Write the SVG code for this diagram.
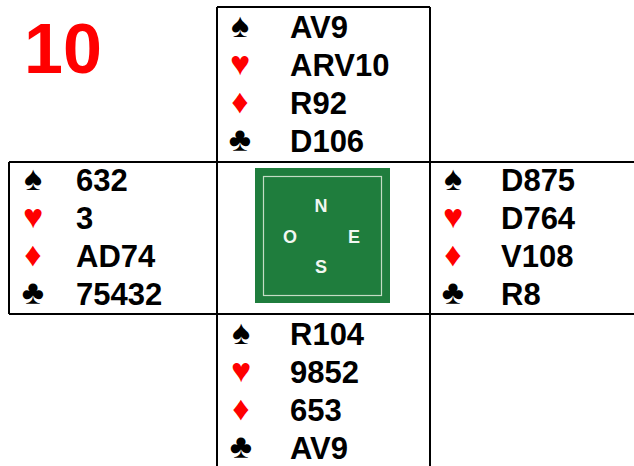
<svg xmlns="http://www.w3.org/2000/svg" width="634" height="466" viewBox="0 0 634 466">
<style>
.c{font-family:"Liberation Sans",Arial,sans-serif;font-weight:bold;font-size:31px;fill:#000}
.s{font-family:"Liberation Sans","DejaVu Sans",sans-serif;font-size:34px;text-anchor:middle}
.b{fill:#000}.r{fill:#ff0000}
.ln{stroke:#000;stroke-width:2;fill:none}
.d{font-family:"Liberation Sans",Arial,sans-serif;font-weight:bold;font-size:18px;fill:#f2f7f2;text-anchor:middle}
</style>
<rect width="634" height="466" fill="#fff"/>
<g id="connectors">
<path class="ln" d="M217,7 H430 M217,7 V466 M430,7 V466 M9,162 H634 M9,314 H634 M9,162 V314"/>
</g>
<g id="title"><text x="24" y="73" font-family="Liberation Sans,Arial,sans-serif" font-weight="bold" font-size="70" fill="#ff0000">10</text></g>
<g id="north">
<text class="s b" x="240" y="37">♠</text><text class="c" x="290" y="38">AV9</text>
<text class="s r" x="240" y="75">♥</text><text class="c" x="290" y="76">ARV10</text>
<text class="s r" x="240" y="113">♦</text><text class="c" x="290" y="114">R92</text>
<text class="s b" x="240" y="151">♣</text><text class="c" x="290" y="152">D106</text>
</g>
<g id="west">
<text class="s b" x="33" y="190">♠</text><text class="c" x="76" y="191">632</text>
<text class="s r" x="33" y="228">♥</text><text class="c" x="76" y="229">3</text>
<text class="s r" x="33" y="266">♦</text><text class="c" x="76" y="267">AD74</text>
<text class="s b" x="33" y="304">♣</text><text class="c" x="76" y="305">75432</text>
</g>
<g id="east">
<text class="s b" x="453" y="190">♠</text><text class="c" x="501" y="191">D875</text>
<text class="s r" x="453" y="228">♥</text><text class="c" x="501" y="229">D764</text>
<text class="s r" x="453" y="266">♦</text><text class="c" x="501" y="267">V108</text>
<text class="s b" x="453" y="304">♣</text><text class="c" x="501" y="305">R8</text>
</g>
<g id="south">
<text class="s b" x="241" y="344">♠</text><text class="c" x="290" y="345">R104</text>
<text class="s r" x="241" y="382">♥</text><text class="c" x="290" y="383">9852</text>
<text class="s r" x="241" y="420">♦</text><text class="c" x="290" y="421">653</text>
<text class="s b" x="241" y="458">♣</text><text class="c" x="290" y="459">AV9</text>
</g>
<g id="table">
<rect x="255" y="168" width="135" height="135" fill="#1f7d3d"/>
<rect x="263.5" y="176.5" width="118" height="119" fill="none" stroke="#c4dcc4" stroke-width="1.2"/>
<text class="d" x="321" y="212">N</text>
<text class="d" x="290" y="243">O</text>
<text class="d" x="354" y="243">E</text>
<text class="d" x="321" y="273">S</text>
</g>
</svg>
